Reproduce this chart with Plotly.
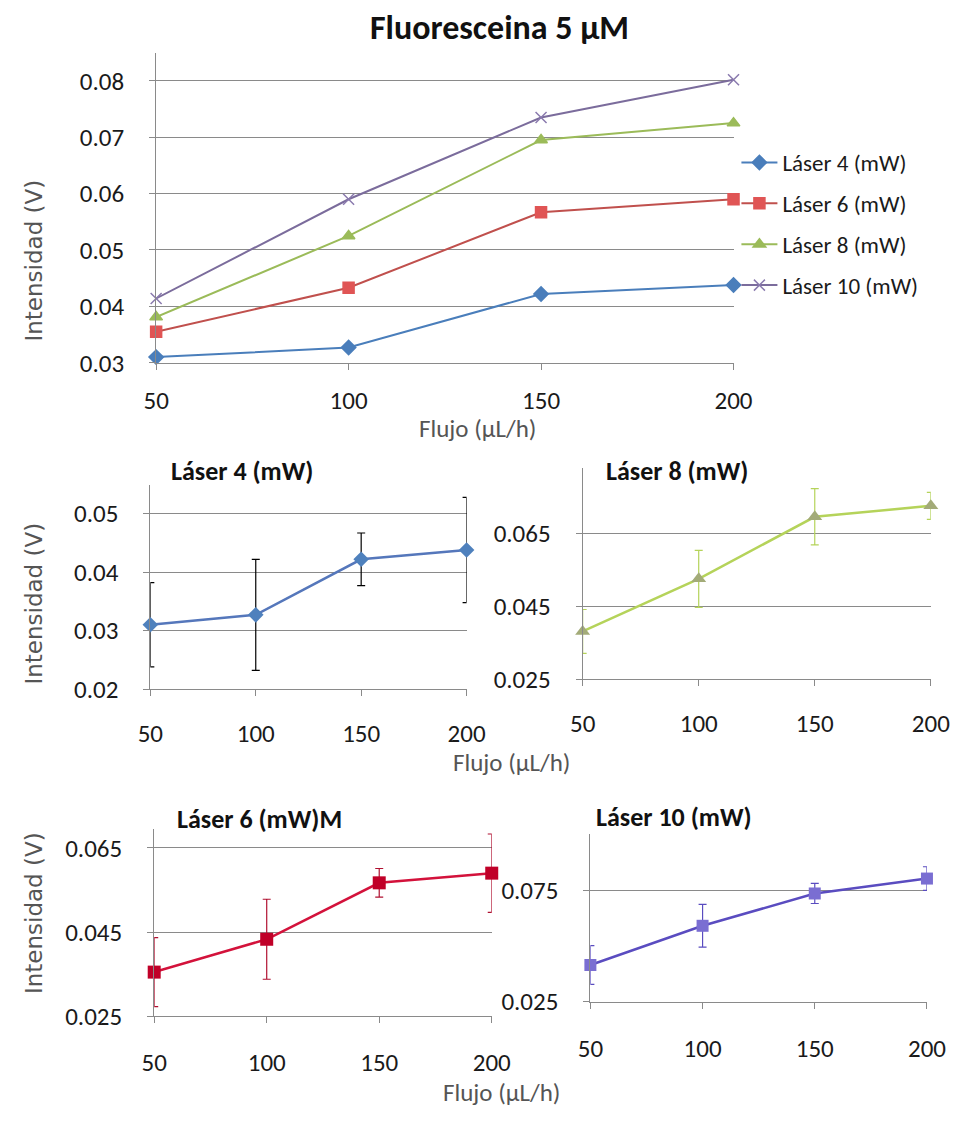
import plotly.graph_objects as go

# Flow rates (µL/h) and measured intensities (V) for each laser power
flujo = [50, 100, 150, 200]
nombres = ["Láser 4 (mW)", "Láser 6 (mW)", "Láser 8 (mW)", "Láser 10 (mW)"]
laser4 = [0.0310, 0.0327, 0.0422, 0.0438]
laser6 = [0.0355, 0.0433, 0.0567, 0.0590]
laser8 = [0.0381, 0.0525, 0.0695, 0.0725]
laser10 = [0.0414, 0.0590, 0.0735, 0.0802]
# Standard deviations used as error bars in the individual panels
err4 = [0.0072, 0.0095, 0.0045, 0.0090]
err6 = [0.0082, 0.0095, 0.0034, 0.0093]
err8 = [0.0060, 0.0078, 0.0077, 0.0037]
err10 = [0.0087, 0.0096, 0.0045, 0.0053]

W, H = 974, 1124
FONT = "Carlito, Liberation Sans Narrow, Lato, sans-serif"
GRID = "#8a8a8a"


def px(x):
    return x / W


def py(y):
    return 1 - y / H


fig = go.Figure()

# ---- combined chart ----
combined = [
    (laser4, "#4a7ebb", "#4a7ebb", "diamond", 11),
    (laser6, "#c0504d", "#e05555", "square", 11),
    (laser8, "#9bbb59", "#9bbb59", "triangle-up", 11),
    (laser10, "#7b6c9c", "#8a7aae", "x-thin-open", 11),
]
for name, (vals, lc, mc, sym, ms) in zip(nombres, combined):
    fig.add_trace(go.Scatter(
        x=flujo, y=vals, name=name, mode="lines+markers",
        line=dict(color=lc, width=2),
        marker=dict(symbol=sym, size=ms, color=mc, line=dict(color=mc, width=1.5)),
        xaxis="x", yaxis="y", cliponaxis=False, legendgroup=name,
    ))

# ---- individual panels with error bars ----
panels = [
    ("x2", "y2", laser4, err4, "#5577bb", "#4f81bd", "#000000", "diamond", 12),
    ("x3", "y3", laser8, err8, "#b5d35a", "#a3ab78", "#b5d35a", "triangle-up", 13),
    ("x4", "y4", laser6, err6, "#d3123b", "#c00028", "#b01030", "square", 13),
    ("x5", "y5", laser10, err10, "#5a4cc0", "#7a6ed2", "#5a4cc0", "square", 12),
]
for xa, ya, vals, err, lc, mc, ec, sym, ms in panels:
    fig.add_trace(go.Scatter(
        x=flujo, y=vals, mode="lines+markers", showlegend=False,
        line=dict(color=lc, width=2.5),
        marker=dict(symbol=sym, size=ms, color=mc),
        error_y=dict(type="data", array=err, visible=True, color=ec,
                     thickness=1.2, width=4),
        xaxis=xa, yaxis=ya, cliponaxis=False,
    ))

tickfont = dict(family=FONT, size=25, color="#1a1a1a")


def xax(x0, x1, anchor, standoff):
    return dict(domain=[px(x0), px(x1)], anchor=anchor, range=[50, 200],
                tickvals=flujo, showgrid=False, zeroline=False,
                showline=True, linecolor=GRID, linewidth=1,
                ticks="outside", ticklen=6, tickcolor=GRID,
                ticklabelstandoff=standoff,
                tickfont=tickfont, fixedrange=True)


def yax(top, bottom, rng, dtick, fmt, anchor):
    return dict(domain=[py(bottom), py(top)], anchor=anchor, range=rng,
                tick0=rng[0], dtick=dtick, tickformat=fmt,
                showgrid=True, gridcolor=GRID, gridwidth=1, zeroline=False,
                showline=True, linecolor=GRID, linewidth=1,
                ticks="outside", ticklen=6, tickcolor=GRID,
                ticklabelstandoff=20,
                tickfont=tickfont, fixedrange=True)


fig.update_layout(
    width=W, height=H, margin=dict(l=0, r=0, t=0, b=0),
    paper_bgcolor="white", plot_bgcolor="white",
    font=dict(family=FONT, color="#1a1a1a"),
    xaxis=xax(148, 745, "y", 9),
    yaxis=yax(53.4, 368, [0.03, 0.085], 0.01, ".2f", "x"),
    xaxis2=xax(142, 469, "y2", 16),
    yaxis2=yax(491.5, 699, [0.02, 0.055], 0.01, ".2f", "x2"),
    xaxis3=xax(589, 949, "y3", 16),
    yaxis3=yax(474.3, 689, [0.025, 0.083], 0.02, ".3f", "x3"),
    xaxis4=xax(146, 495, "y4", 18),
    yaxis4=yax(840.9, 1031, [0.025, 0.0695], 0.02, ".3f", "x4"),
    xaxis5=xax(597, 945, "y5", 18),
    yaxis5=yax(846.5, 1016, [0.025, 0.1], 0.05, ".3f", "x5"),
    legend=dict(x=px(748), y=py(143), xanchor="left", yanchor="top",
                font=dict(family=FONT, size=23, color="#1a1a1a"),
                bgcolor="rgba(0,0,0,0)", tracegroupgap=8, itemwidth=36,
                traceorder="grouped"),
    showlegend=True,
)

titles = [
    ("<b>Fluoresceina 5 µM</b>", 503, 28, 34),
    ("<b>Láser 4 (mW)</b>", 237, 478, 26),
    ("<b>Láser 8 (mW)</b>", 687, 478, 26),
    ("<b>Láser 6 (mW)M</b>", 255, 831, 26),
    ("<b>Láser 10 (mW)</b>", 683, 829, 26),
]
for text, x, y, size in titles:
    fig.add_annotation(text=text, x=px(x), y=py(y), xref="paper", yref="paper",
                       showarrow=False, xanchor="center", yanchor="middle",
                       font=dict(family=FONT, size=size, color="#111111"))

xtitles = [(480, 435), (515, 774), (505, 1108)]
for x, y in xtitles:
    fig.add_annotation(text="Flujo (µL/h)", x=px(x), y=py(y), xref="paper",
                       yref="paper", showarrow=False, xanchor="center",
                       yanchor="middle",
                       font=dict(family=FONT, size=25, color="#555555"))

ytitles = [(22, 264), (22, 612), (22, 926)]
for x, y in ytitles:
    fig.add_annotation(text="Intensidad (V)", x=px(x), y=py(y), xref="paper",
                       yref="paper", showarrow=False, textangle=-90,
                       xanchor="center", yanchor="middle",
                       font=dict(family="DejaVu Sans, sans-serif",
                                 size=23, color="#555555"))

fig.write_html("out.html")
